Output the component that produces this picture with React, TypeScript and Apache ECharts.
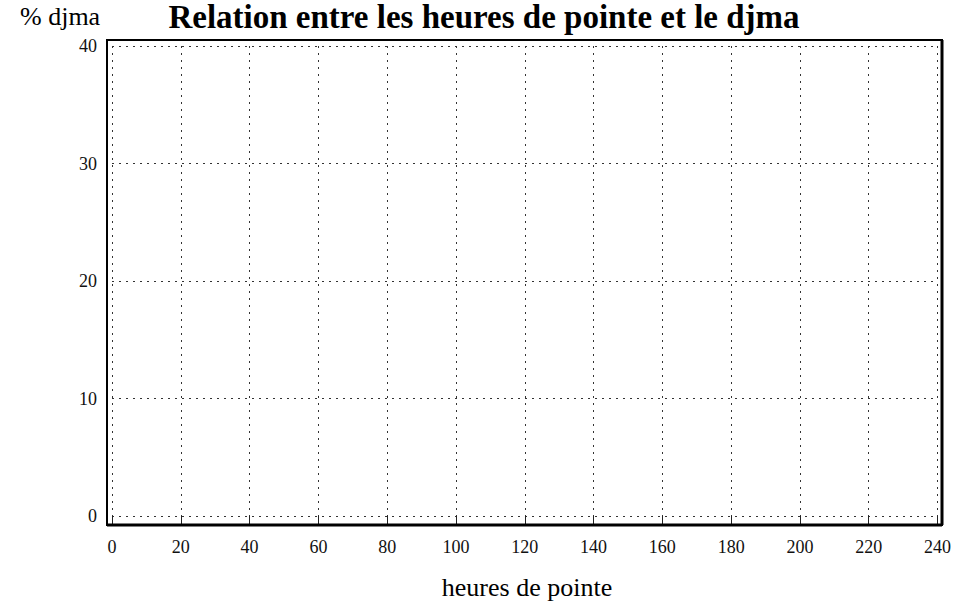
import React, { useEffect, useRef } from "react";
import * as echarts from "echarts";

const titleText = "Relation entre les heures de pointe et le djma";
const yAxisTitle = "% djma";
const xAxisTitle = "heures de pointe";
const xRange = [0, 240];
const xStep = 20;
const yRange = [0, 40];
const yStep = 10;
// The reference plot contains no plotted data: only the empty grid.
const seriesValues: [number, number][] = [];

const FONT = "'Liberation Serif', 'Times New Roman', serif";

export default function App() {
  const ref = useRef<HTMLDivElement>(null);
  useEffect(() => {
    if (!ref.current) return;
    const chart = echarts.init(ref.current, undefined, { renderer: "svg" });
    chart.setOption({
      animation: false,
      backgroundColor: "#ffffff",
      grid: { left: 112, right: 32.5, top: 46, bottom: 87, containLabel: false },
      xAxis: {
        type: "value",
        min: xRange[0],
        max: xRange[1],
        interval: xStep,
        offset: 9,
        axisLine: { show: false },
        axisTick: { show: true, length: 8, lineStyle: { color: "#222", width: 1 } },
        axisLabel: { color: "#111", fontFamily: FONT, fontSize: 18, margin: 13 },
        splitLine: { show: true, lineStyle: { color: "#333", type: [2, 5], width: 1 } },
      },
      yAxis: {
        type: "value",
        min: yRange[0],
        max: yRange[1],
        interval: yStep,
        axisLine: { show: false },
        axisTick: { show: false },
        axisLabel: { color: "#111", fontFamily: FONT, fontSize: 18, margin: 15 },
        splitLine: { show: true, lineStyle: { color: "#333", type: [2, 5], width: 1 } },
      },
      series: [
        {
          type: "line",
          data: seriesValues,
          showSymbol: false,
          lineStyle: { color: "#000" },
        },
      ],
      graphic: [
        {
          type: "rect",
          shape: { x: 107, y: 40, width: 835, height: 485 },
          style: { fill: "none", stroke: "#000", lineWidth: 2 },
          z: 10,
        },
        {
          type: "line",
          shape: { x1: 942, y1: 40, x2: 942, y2: 525 },
          style: { stroke: "#000", lineWidth: 3 },
          z: 10,
        },
        {
          type: "line",
          shape: { x1: 107, y1: 525, x2: 942, y2: 525 },
          style: { stroke: "#000", lineWidth: 3 },
          z: 10,
        },
        {
          type: "text",
          x: 484,
          y: 0,
          style: {
            text: titleText,
            fontFamily: FONT,
            fontSize: 33,
            fontWeight: "bold",
            fill: "#000",
            align: "center",
            verticalAlign: "top",
          },
        },
        {
          type: "text",
          x: 20,
          y: 3,
          style: {
            text: yAxisTitle,
            fontFamily: FONT,
            fontSize: 26,
            fill: "#000",
            align: "left",
            verticalAlign: "top",
          },
        },
        {
          type: "text",
          x: 527,
          y: 574,
          style: {
            text: xAxisTitle,
            fontFamily: FONT,
            fontSize: 26,
            fill: "#000",
            align: "center",
            verticalAlign: "top",
          },
        },
      ],
    });
    return () => chart.dispose();
  }, []);
  return (
    <div
      ref={ref}
      style={{ position: "fixed", left: 0, top: 0, width: 970, height: 603 }}
    />
  );
}
